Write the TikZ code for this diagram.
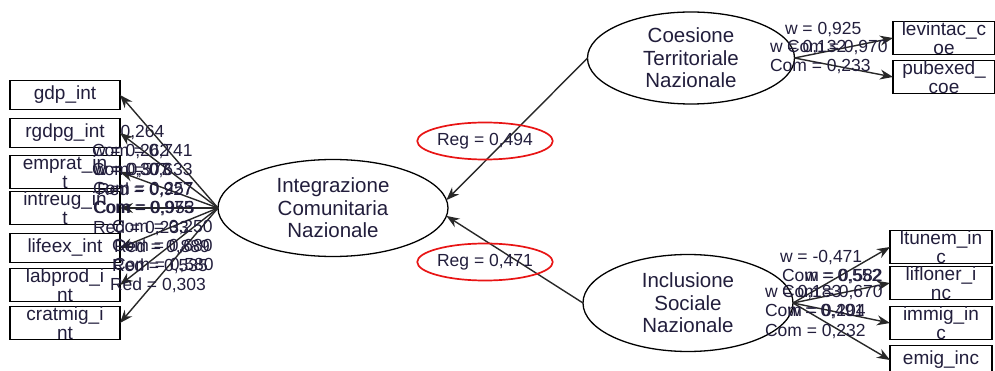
\documentclass[tikz,border=0pt]{standalone}
\usepackage{fontspec}
\setmainfont{Liberation Sans}
\usetikzlibrary{arrows.meta,shapes.geometric}
\definecolor{ink}{RGB}{34,30,60}
\definecolor{edgegray}{RGB}{40,40,40}
\definecolor{regred}{RGB}{232,20,20}

\begin{document}
\begin{tikzpicture}[x=1pt,y=-1pt,
  every node/.style={inner sep=0pt, outer sep=0pt, text=ink},
  mbox/.style={draw=black, line width=1.3pt, fill=white, minimum height=29pt,
    align=center, font=\fontsize{19}{19}\selectfont},
  lbox/.style={mbox, minimum width=110pt},
  rbox/.style={mbox, minimum width=102pt},
  latent/.style={ellipse, draw=black, line width=1.3pt, fill=white, align=center,
    font=\fontsize{20.5}{22.5}\selectfont},
  link/.style={draw=edgegray, line width=1.4pt, -{Stealth[length=13pt,width=10pt]}},
  lab/.style={anchor=west, font=\fontsize{17.5}{19}\selectfont},
  reg/.style={ellipse, draw=regred, line width=1.7pt, minimum width=128pt,
    minimum height=37pt, font=\fontsize{17.5}{19}\selectfont}]

\useasboundingbox (0,0) rectangle (995,371);

% weight label partly covered by the rgdpg box
\node[lab] (a1) at (88,133) {w = 0,264};

% indicator boxes, left block
\node[lbox] (gdp)     at (65,95)  {gdp\_int};
\node[lbox] (rgdpg)   at (65,133) {rgdpg\_int};
\node[lbox] (emprat)  at (65,172) {emprat\_in\\t};
\node[lbox] (intreug) at (65,208) {intreug\_in\\t};
\node[lbox] (lifeex)  at (65,248) {lifeex\_int};
\node[lbox] (labprod) at (65,285) {labprod\_i\\nt};
\node[lbox] (cratmig) at (65,323) {cratmig\_i\\nt};

% indicator boxes, right block
\node[rbox] (levintac) at (944,38)  {levintac\_c\\oe};
\node[rbox] (pubexed)  at (944,77)  {pubexed\_\\coe};
\node[rbox] (ltunem)   at (941,247) {ltunem\_in\\c};
\node[rbox] (lifloner) at (941,283) {lifloner\_i\\nc};
\node[rbox] (immig)    at (941,323) {immig\_in\\c};
\node[rbox] (emig)     at (941,360) {emig\_inc};

% latent constructs
\node[latent, minimum width=230pt, minimum height=97pt] (int) at (333,208)
  {Integrazione\\Comunitaria\\Nazionale};
\node[latent, minimum width=207pt, minimum height=92pt] (coe) at (691,58)
  {Coesione\\Territoriale\\Nazionale};
\node[latent, minimum width=210pt, minimum height=97pt] (inc) at (688,303)
  {Inclusione\\Sociale\\Nazionale};

% outer model arrows
\foreach \b in {gdp,rgdpg,emprat,intreug,lifeex,labprod,cratmig}
  \draw[link] (int.west) -- (\b.east);
\foreach \b in {levintac,pubexed}
  \draw[link] (coe.east) -- (\b.west);
\foreach \b in {ltunem,lifloner,immig,emig}
  \draw[link] (inc.east) -- (\b.west);

% inner model arrows
\draw[link] (coe.west) -- (int.4);
\draw[link] (inc.west) -- (int.-4);

% outer weights / communalities / redundancies
\node[lab] (a2)  at (93,152)  {w = 0,262};
\node[lab] (a3)  at (92,152)  {Com = 0,741};
\node[lab] (a4)  at (93,171)  {w = 0,307};
\node[lab] (a5)  at (95,171)  {w = 0,573};
\node[lab] (a6)  at (92,171)  {Com = 0,633};
\node[lab] (a7)  at (93,190)  {Com = 0,257};
\node[lab] (a8)  at (97,190)  {Red = 0,927};
\node[lab] (a9)  at (93,209)  {Com = 0,975};
\node[lab] (a10) at (94,209)  {Com = 0,953};
\node[lab] (a11) at (93,228)  {Red = 0,233};
\node[lab] (a12) at (112,228) {Com = 0,250};
\node[lab] (a13) at (112,247) {Com = 0,680};
\node[lab] (a14) at (114,247) {Red = 0,889};
\node[lab] (a15) at (112,266) {Red = 0,535};
\node[lab] (a16) at (113,266) {Com = 0,580};
\node[lab] (a17) at (110,285) {Red = 0,303};

\node[lab] (b1) at (785,30) {w = 0,925};
\node[lab] (b2) at (770,48) {w = 0,132};
\node[lab] (b3) at (787,48) {Com = 0,970};
\node[lab] (b4) at (770,67) {Com = 0,233};

\node[lab] (c1) at (780,258) {w = -0,471};
\node[lab] (c2) at (782,277) {Com = 0,582};
\node[lab] (c3) at (805,277) {w = 0,552};
\node[lab] (c4) at (765,293) {w = 0,183};
\node[lab] (c5) at (782,293) {Com = 0,670};
\node[lab] (c6) at (765,312) {Com = 0,204};
\node[lab] (c7) at (788,312) {w = 0,491};
\node[lab] (c8) at (765,332) {Com = 0,232};

% path coefficients
\node[reg] (reg1) at (485,141) {Reg = 0,494};
\node[reg] (reg2) at (485,262) {Reg = 0,471};
\end{tikzpicture}
\end{document}
